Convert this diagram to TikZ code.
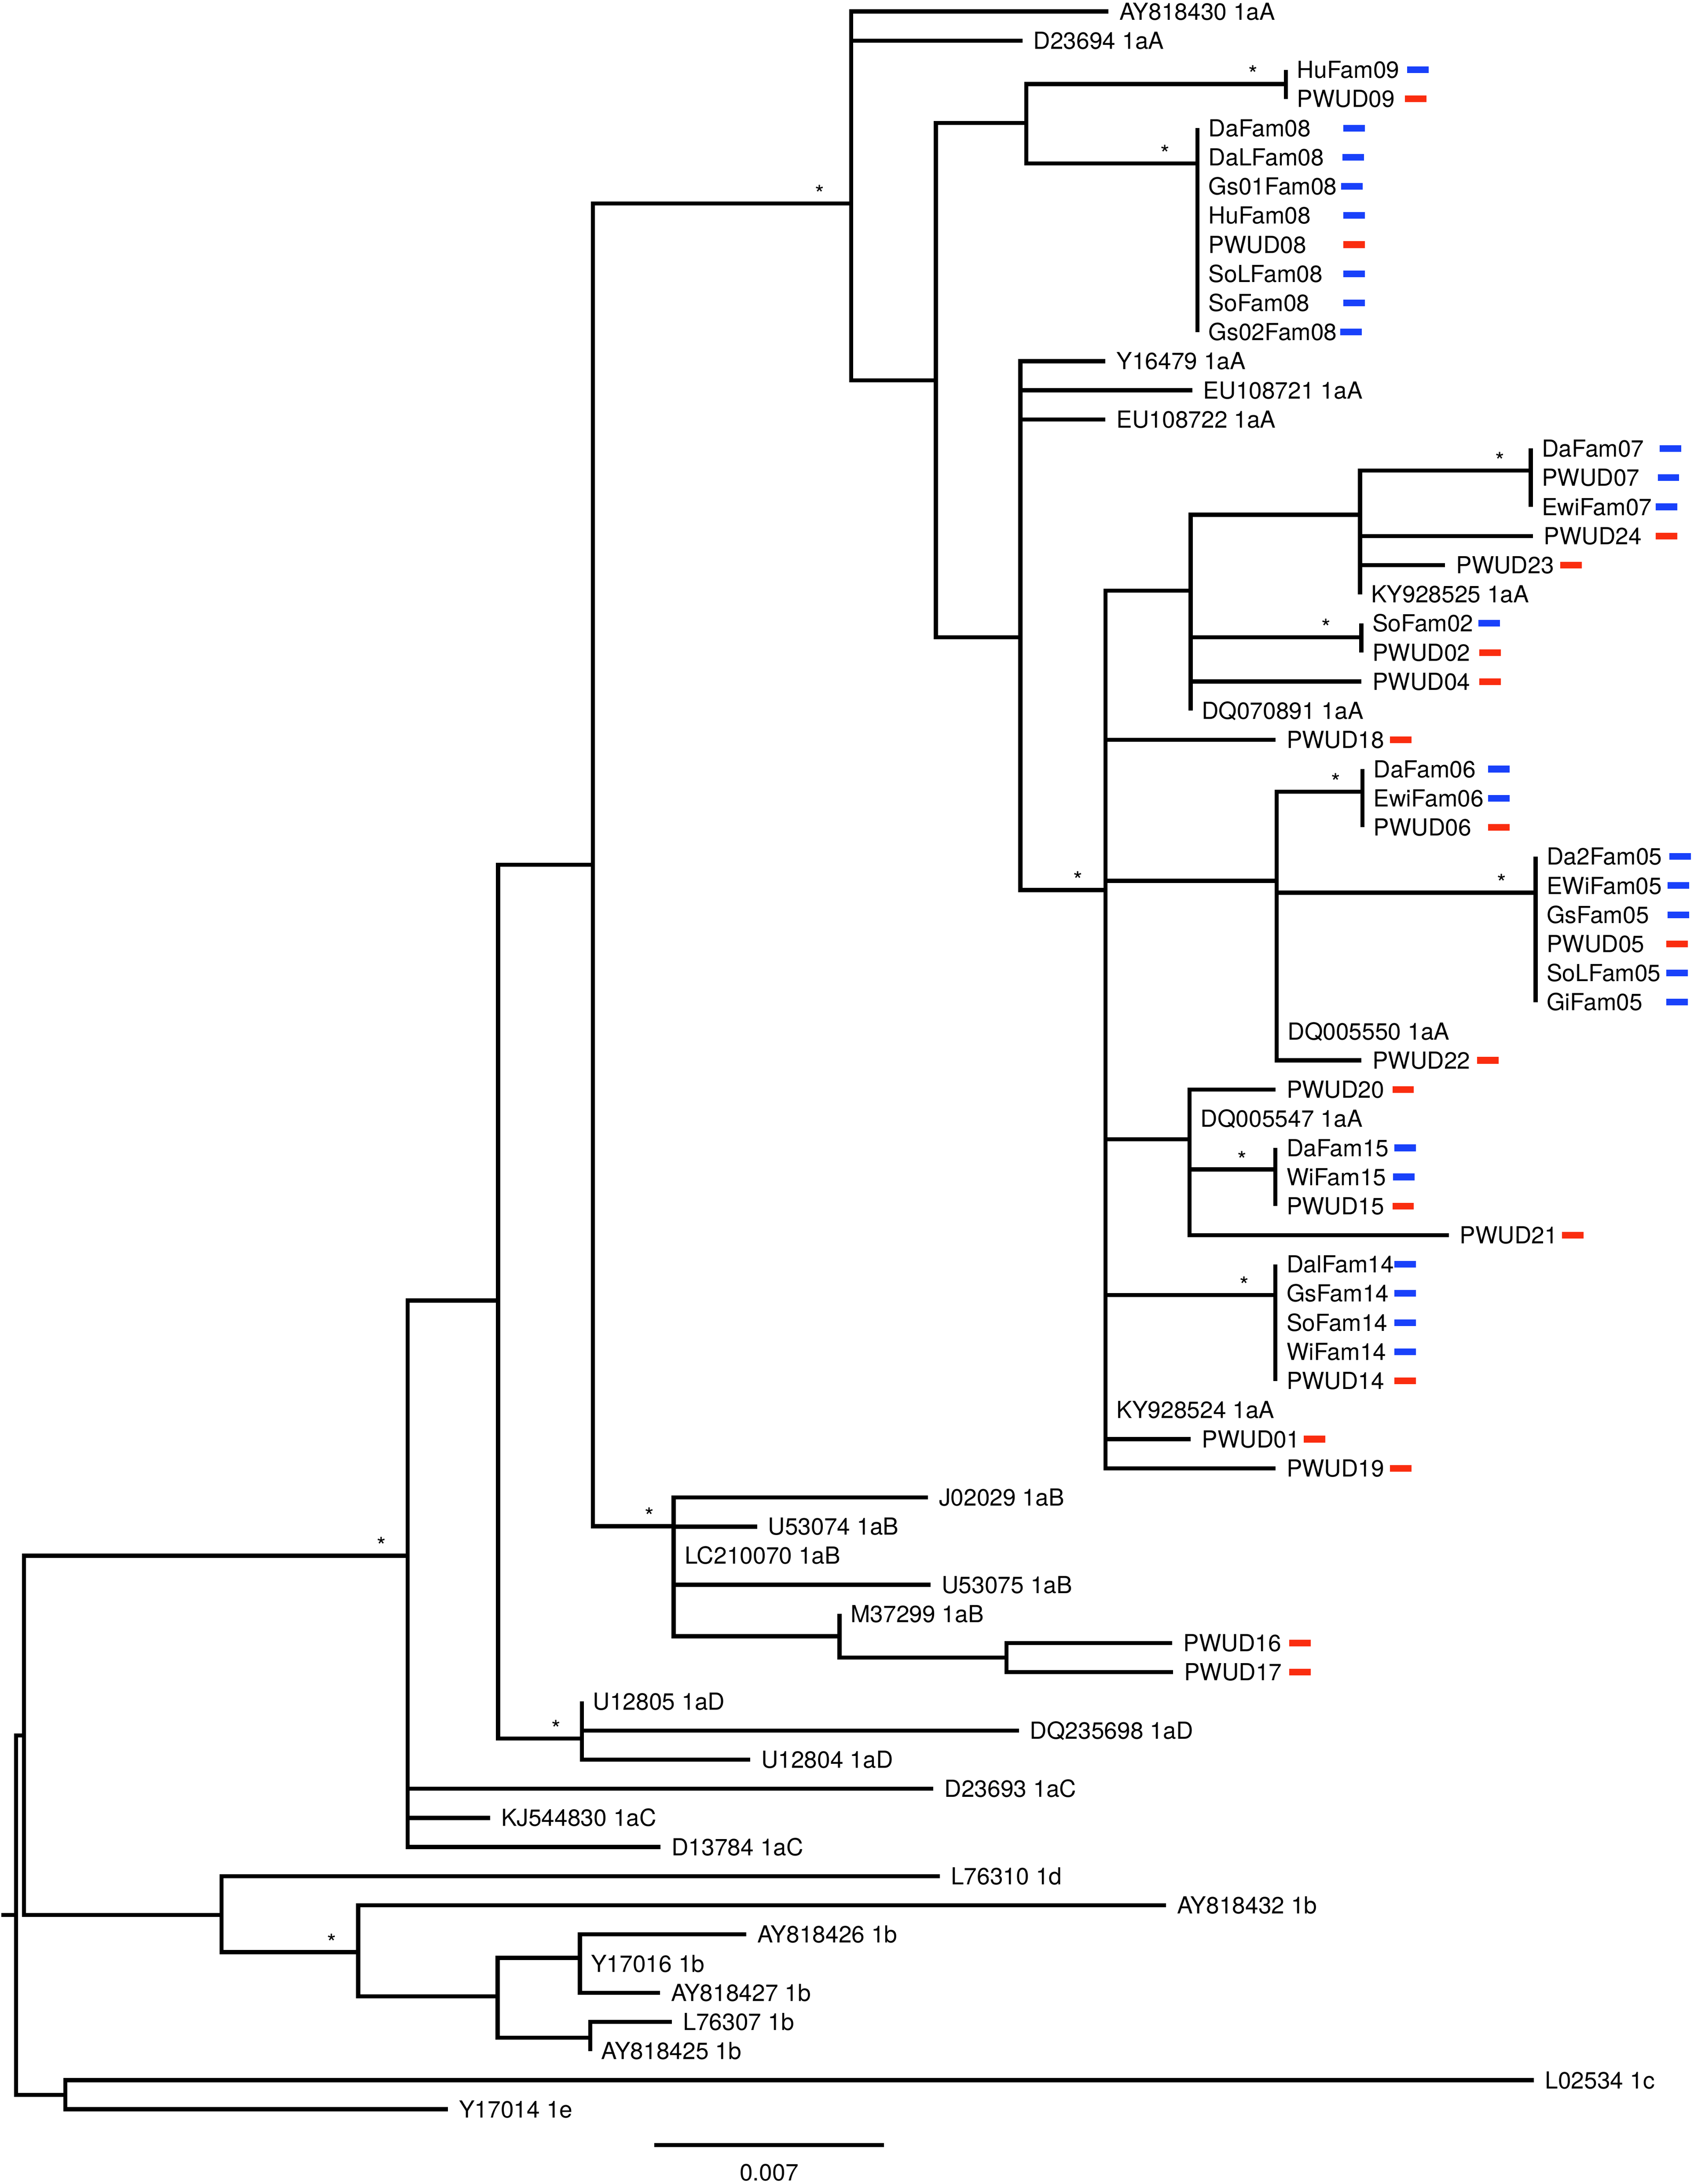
\documentclass[tikz,border=0pt]{standalone}
\usepackage{fontspec}
\setmainfont{TeX Gyre Heros}
\definecolor{famblue}{RGB}{25,65,250}
\definecolor{pwudred}{RGB}{250,45,15}

\begin{document}
\begin{tikzpicture}[x=1pt,y=-1pt,font=\fontsize{16.9}{20}\selectfont,
    treeline/.style={line width=3pt},
    leaf/.style={anchor=west,inner xsep=8pt,inner ysep=0pt,outer sep=0pt,text height=12.1pt,text depth=0pt},
    supp/.style={anchor=base,inner sep=0pt,yshift=1pt},
    fam/.style={line width=4.8pt,draw=famblue},
    pwud/.style={line width=4.8pt,draw=pwudred}]
    \useasboundingbox (0,0) rectangle (1219.5,1572.4);
    % Coordinates
    \coordinate (R0) at (1.1,1378.6);
    \coordinate (R) at (11.6,1378.6);
    \coordinate (A) at (17.3,1249.5);
    \coordinate (G) at (47.1,1508.2);
    \coordinate (C) at (293.4,1120);
    \coordinate (D) at (159.5,1378.7);
    \coordinate (H) at (358.5,936.4);
    \coordinate (U) at (418.9,1251.6);
    \coordinate (X0) at (426.8,622.6);
    \coordinate (X1) at (612.7,146.5);
    \coordinate (X2) at (673.7,273.9);
    \coordinate (X3) at (738.9,88.6);
    \coordinate (F9) at (925.8,60.5);
    \coordinate (F8) at (862.1,117.6);
    \coordinate (X4) at (734.5,458.9);
    \coordinate (X5) at (795.8,640.8);
    \coordinate (X6) at (857.1,425.3);
    \coordinate (X9) at (979.1,370.6);
    \coordinate (F7) at (1102,338.8);
    \coordinate (F2) at (980,458.9);
    \coordinate (X7) at (919,634.1);
    \coordinate (F6) at (980.8,570);
    \coordinate (F5) at (1105.5,642.7);
    \coordinate (X8) at (856.4,820.2);
    \coordinate (F15) at (918.2,842);
    \coordinate (F14) at (918.2,932.3);
    \coordinate (B) at (485,1098.8);
    \coordinate (M) at (604.4,1178);
    \coordinate (P) at (724.6,1193.4);
    \coordinate (E) at (257.8,1405.5);
    \coordinate (Fb) at (358.3,1437.2);
    \coordinate (Q) at (417.5,1409.5);
    \coordinate (S) at (425,1467);
    % Labels
    \node[leaf] (AY818430) at (798,8.3) {AY818430 1aA};
    \node[leaf] (D23694) at (736,29.3) {D23694 1aA};
    \node[leaf] (HuFam09) at (925.8,50.3) {HuFam09};
    \node[leaf] (PWUD09) at (925.8,71.2) {PWUD09};
    \node[leaf] (DaFam08) at (862.1,92.2) {DaFam08};
    \node[leaf] (DaLFam08) at (862.1,113.2) {DaLFam08};
    \node[leaf] (Gs01Fam08) at (862.1,134.2) {Gs01Fam08};
    \node[leaf] (HuFam08) at (862.1,155.1) {HuFam08};
    \node[leaf] (PWUD08) at (862.1,176.1) {PWUD08};
    \node[leaf] (SoLFam08) at (862.1,197.1) {SoLFam08};
    \node[leaf] (SoFam08) at (862.1,218.1) {SoFam08};
    \node[leaf] (Gs02Fam08) at (862.1,239.0) {Gs02Fam08};
    \node[leaf] (Y16479) at (795.8,260.0) {Y16479 1aA};
    \node[leaf] (EU108721) at (858.3,281.0) {EU108721 1aA};
    \node[leaf] (EU108722) at (795.8,302.0) {EU108722 1aA};
    \node[leaf] (DaFam07) at (1102,322.9) {DaFam07};
    \node[leaf] (PWUD07) at (1102,343.9) {PWUD07};
    \node[leaf] (EwiFam07) at (1102,364.9) {EwiFam07};
    \node[leaf] (PWUD24) at (1103.5,385.9) {PWUD24};
    \node[leaf] (PWUD23) at (1040.3,406.8) {PWUD23};
    \node[leaf] (KY928525) at (979.1,427.8) {KY928525 1aA};
    \node[leaf] (SoFam02) at (980,448.8) {SoFam02};
    \node[leaf] (PWUD02) at (980,469.8) {PWUD02};
    \node[leaf] (PWUD04) at (980,490.7) {PWUD04};
    \node[leaf] (DQ070891) at (857.1,511.7) {DQ070891 1aA};
    \node[leaf] (PWUD18) at (918.2,532.7) {PWUD18};
    \node[leaf] (DaFam06) at (980.8,553.7) {DaFam06};
    \node[leaf] (EwiFam06) at (980.8,574.7) {EwiFam06};
    \node[leaf] (PWUD06) at (980.8,595.6) {PWUD06};
    \node[leaf] (Da2Fam05) at (1105.5,616.6) {Da2Fam05};
    \node[leaf] (EWiFam05) at (1105.5,637.6) {EWiFam05};
    \node[leaf] (GsFam05) at (1105.5,658.6) {GsFam05};
    \node[leaf] (PWUD05) at (1105.5,679.5) {PWUD05};
    \node[leaf] (SoLFam05) at (1105.5,700.5) {SoLFam05};
    \node[leaf] (GiFam05) at (1105.5,721.5) {GiFam05};
    \node[leaf] (DQ005550) at (919,742.5) {DQ005550 1aA};
    \node[leaf] (PWUD22) at (980,763.4) {PWUD22};
    \node[leaf] (PWUD20) at (918.2,784.4) {PWUD20};
    \node[leaf] (DQ005547) at (856.4,805.4) {DQ005547 1aA};
    \node[leaf] (DaFam15) at (918.2,826.4) {DaFam15};
    \node[leaf] (WiFam15) at (918.2,847.3) {WiFam15};
    \node[leaf] (PWUD15) at (918.2,868.3) {PWUD15};
    \node[leaf] (PWUD21) at (1043,889.3) {PWUD21};
    \node[leaf] (DalFam14) at (918.2,910.3) {DalFam14};
    \node[leaf] (GsFam14) at (918.2,931.2) {GsFam14};
    \node[leaf] (SoFam14) at (918.2,952.2) {SoFam14};
    \node[leaf] (WiFam14) at (918.2,973.2) {WiFam14};
    \node[leaf] (PWUD14) at (918.2,994.2) {PWUD14};
    \node[leaf] (KY928524) at (795.8,1015.1) {KY928524 1aA};
    \node[leaf] (PWUD01) at (857.3,1036.1) {PWUD01};
    \node[leaf] (PWUD19) at (918.2,1057.1) {PWUD19};
    \node[leaf] (J02029) at (668,1078.1) {J02029 1aB};
    \node[leaf] (U53074) at (545,1099.1) {U53074 1aB};
    \node[leaf] (LC210070) at (485,1120.0) {LC210070 1aB};
    \node[leaf] (U53075) at (670,1141.0) {U53075 1aB};
    \node[leaf] (M37299) at (604.4,1162.0) {M37299 1aB};
    \node[leaf] (PWUD16) at (844,1183.0) {PWUD16};
    \node[leaf] (PWUD17) at (844.5,1203.9) {PWUD17};
    \node[leaf] (U12805) at (418.9,1224.9) {U12805 1aD};
    \node[leaf] (DQ235698) at (733.5,1245.9) {DQ235698 1aD};
    \node[leaf] (U12804) at (540,1266.9) {U12804 1aD};
    \node[leaf] (D23693) at (672,1287.8) {D23693 1aC};
    \node[leaf] (KJ544830) at (352.8,1308.8) {KJ544830 1aC};
    \node[leaf] (D13784) at (475.5,1329.8) {D13784 1aC};
    \node[leaf] (L76310) at (676.6,1350.8) {L76310 1d};
    \node[leaf] (AY818432) at (839.5,1371.7) {AY818432 1b};
    \node[leaf] (AY818426) at (537.3,1392.7) {AY818426 1b};
    \node[leaf] (Y17016) at (417.5,1413.7) {Y17016 1b};
    \node[leaf] (AY818427) at (475.1,1434.7) {AY818427 1b};
    \node[leaf] (L76307) at (483.8,1455.6) {L76307 1b};
    \node[leaf] (AY818425) at (425,1476.6) {AY818425 1b};
    \node[leaf] (L02534) at (1104.3,1497.6) {L02534 1c};
    \node[leaf] (Y17014) at (322.5,1518.6) {Y17014 1e};
    % Support marks
    \node[supp] (aX1) at ([xshift=-22.7pt]X1) {*};
    \node[supp] (aF9) at ([xshift=-23.7pt]F9) {*};
    \node[supp] (aF8) at ([xshift=-23.3pt]F8) {*};
    \node[supp] (aX5) at ([xshift=-19.8pt]X5) {*};
    \node[supp] (aF7) at ([xshift=-22.3pt]F7) {*};
    \node[supp] (aF2) at ([xshift=-25.3pt]F2) {*};
    \node[supp] (aF6) at ([xshift=-19.1pt]F6) {*};
    \node[supp] (aF5) at ([xshift=-24.5pt]F5) {*};
    \node[supp] (aF15) at ([xshift=-23.9pt]F15) {*};
    \node[supp] (aF14) at ([xshift=-22.5pt]F14) {*};
    \node[supp] (aB) at ([xshift=-17.5pt]B) {*};
    \node[supp] (aU) at ([xshift=-18.4pt]U) {*};
    \node[supp] (aC) at ([xshift=-18.9pt]C) {*};
    \node[supp] (aE) at ([xshift=-18.9pt]E) {*};
    % draw branches
    \draw[treeline] (R0) -- (R) (R) |- (A) (R) |- (G);
    \draw[treeline] (A) |- (C) (A) |- (D);
    \draw[treeline] (G) |- (L02534.west) (G) |- (Y17014.west);
    \draw[treeline] (C) |- (H) (C) |- (D23693.west) (C) |- (KJ544830.west) (C) |- (D13784.west);
    \draw[treeline] (H) |- (X0) (H) |- (U);
    \draw[treeline] (U) |- (U12805.west) (U) |- (DQ235698.west) (U) |- (U12804.west);
    \draw[treeline] (X0) |- (X1) (X0) |- (B);
    \draw[treeline] (X1) |- (AY818430.west) (X1) |- (D23694.west) (X1) |- (X2);
    \draw[treeline] (X2) |- (X3) (X2) |- (X4);
    \draw[treeline] (X3) |- (F9) (X3) |- (F8);
    \draw[treeline] (F9) |- (HuFam09.west) (F9) |- (PWUD09.west);
    \draw[treeline] (F8) |- (DaFam08.west) (F8) |- (Gs02Fam08.west);
    \draw[treeline] (X4) |- (Y16479.west) (X4) |- (EU108721.west) (X4) |- (EU108722.west) (X4) |- (X5);
    \draw[treeline] (X5) |- (X6) (X5) |- (PWUD18.west) (X5) |- (X7) (X5) |- (X8) (X5) |- (F14)
        (X5) |- (PWUD01.west) (X5) |- (PWUD19.west);
    \draw[treeline] (X6) |- (X9) (X6) |- (F2) (X6) |- (PWUD04.west) (X6) |- (DQ070891.west);
    \draw[treeline] (X9) |- (F7) (X9) |- (PWUD24.west) (X9) |- (PWUD23.west) (X9) |- (KY928525.west);
    \draw[treeline] (F7) |- (DaFam07.west) (F7) |- (EwiFam07.west);
    \draw[treeline] (F2) |- (SoFam02.west) (F2) |- (PWUD02.west);
    \draw[treeline] (X7) |- (F6) (X7) |- (F5) (X7) |- (PWUD22.west);
    \draw[treeline] (F6) |- (DaFam06.west) (F6) |- (PWUD06.west);
    \draw[treeline] (F5) |- (Da2Fam05.west) (F5) |- (GiFam05.west);
    \draw[treeline] (X8) |- (PWUD20.west) (X8) |- (F15) (X8) |- (PWUD21.west);
    \draw[treeline] (F15) |- (DaFam15.west) (F15) |- (PWUD15.west);
    \draw[treeline] (F14) |- (DalFam14.west) (F14) |- (PWUD14.west);
    \draw[treeline] (B) |- (J02029.west) (B) |- (U53074.west) (B) |- (U53075.west) (B) |- (M);
    \draw[treeline] (M) |- (M37299.west) (M) |- (P);
    \draw[treeline] (P) |- (PWUD16.west) (P) |- (PWUD17.west);
    \draw[treeline] (D) |- (L76310.west) (D) |- (E);
    \draw[treeline] (E) |- (AY818432.west) (E) |- (Fb);
    \draw[treeline] (Fb) |- (Q) (Fb) |- (S);
    \draw[treeline] (Q) |- (AY818426.west) (Q) |- (AY818427.west);
    \draw[treeline] (S) |- (L76307.west) (S) |- (AY818425.west);
    % Bars
    \foreach \x/\y in {1013/50.3, 967/92.2, 966.5/113.2, 965.4/134.2, 967/155.1, 967/197.1, 967/218.1,
        965/239.0, 1194.8/322.9, 1193.4/343.9, 1192/364.9, 1064.2/448.8, 1071.2/553.7, 1071.2/574.7,
        1201.8/616.6, 1200.4/637.6, 1200.4/658.6, 1199.6/700.5, 1199.6/721.5, 1003.8/826.4,
        1003/847.3, 1003.8/910.3, 1003.8/931.2, 1003.8/952.2, 1003.8/973.2}
        \draw[fam] (\x,\y) -- ++(15.5,0);
    \foreach \x/\y in {1011.5/71.2, 967/176.1, 1192/385.9, 1123.2/406.8, 1065/469.8, 1065/490.7,
        1000.5/532.7, 1071.2/595.6, 1199.6/679.5, 1063.4/763.4, 1002.4/784.4, 1002.4/868.3,
        1124.6/889.3, 1003.8/994.2, 938.7/1036.1, 1000.5/1057.1, 928/1183.0, 928/1203.9}
        \draw[pwud] (\x,\y) -- ++(15.5,0);
    % Scale
    \coordinate (s1) at (471.1,1544.4);
    \coordinate (s2) at (636.3,1544.4);
    \draw[treeline] (s1) -- (s2);
    \node[inner sep=0pt,text height=12.1pt,text depth=0pt] (sval) at (553.7,1564) {0.007};
\end{tikzpicture}
\end{document}
